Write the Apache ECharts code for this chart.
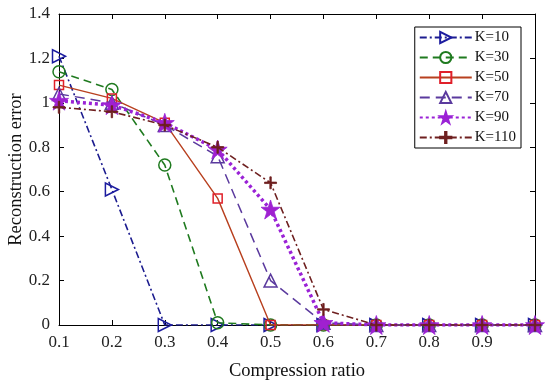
<!DOCTYPE html>
<html><head><meta charset="utf-8">
<script src="https://cdn.jsdelivr.net/npm/echarts@6/dist/echarts.min.js"></script>
<style>html,body{margin:0;padding:0;background:#fff}#c{width:550px;height:381px}</style>
</head><body><div id="c"></div>
<script>
const ratios = [0.1,0.2,0.3,0.4,0.5,0.6,0.7,0.8,0.9,1.0];
const names = ['K=10','K=30','K=50','K=70','K=90','K=110'];
const k10  = [1.21,0.61,0,0,0,0,0,0,0,0];
const k30  = [1.14,1.06,0.72,0.01,0,0,0,0,0,0];
const k50  = [1.08,1.02,0.91,0.57,0,0,0,0,0,0];
const k70  = [1.04,1.00,0.90,0.76,0.20,0.01,0,0,0,0];
const k90  = [1.01,0.99,0.91,0.79,0.52,0.01,0,0,0,0];
const k110 = [0.98,0.96,0.90,0.80,0.64,0.07,0,0,0,0];
const yTicks = [0,0.2,0.4,0.6,0.8,1,1.2,1.4];

const star = 'path://M10,0 L12.25,6.91 L19.51,6.91 L13.63,11.18 L15.88,18.09 L10,13.82 L4.12,18.09 L6.37,11.18 L0.49,6.91 L7.75,6.91 Z';
const plus = 'path://M4.4,0H5.6V4.4H10V5.6H5.6V10H4.4V5.6H0V4.4H4.4Z';
const FONT = '"Liberation Serif","Times New Roman",serif';

function pts(arr){ return arr.map((v,i)=>[ratios[i], v]); }

const styles = [
  {data:k10, line:'#1c1c8f', mark:'#1c1c9f', type:[7,3,2,3], w:1.6, sym:'triangle', rot:-90, size:13, fill:'rgba(255,255,255,0)'},
  {data:k30, line:'#1f7a1f', mark:'#1f7a1f', type:[8,5], w:1.6, sym:'circle', rot:0, size:12, fill:'rgba(255,255,255,0)'},
  {data:k50, line:'#b8401f', mark:'#e0202a', type:'solid', w:1.4, sym:'rect', rot:0, size:9, fill:'rgba(255,255,255,0)'},
  {data:k70, line:'#5b3a9e', mark:'#5b3a9e', type:[10,6], w:1.5, sym:'triangle', rot:0, size:13, fill:'rgba(255,255,255,0)'},
  {data:k90, line:'#9a22d6', mark:'#9a22d6', type:[3,3], w:3.5, sym:star, rot:0, size:19, fill:'#a020d0'},
  {data:k110, line:'#6e1f1f', mark:'#6e1f1f', type:[7,3,2,3], w:1.6, sym:plus, rot:0, size:12, fill:'#6e1f1f'}
];

const series = styles.map((s,i)=>({
  name: names[i], type:'line', data: pts(s.data),
  symbol: s.sym, symbolSize: s.size, symbolRotate: s.rot, showAllSymbol:true,
  lineStyle:{color:s.line, width:s.w, type:s.type},
  itemStyle:{color:s.fill, borderColor:s.mark, borderWidth: (i>=4?0.8:1.5)},
  emphasis:{disabled:true}, animation:false, z: 2+i
}));

const axisBase = {
  axisLine:{show:true, onZero:false, lineStyle:{color:'#000', width:1}},
  axisTick:{show:true, inside:true, length:5, lineStyle:{color:'#000'}},
  splitLine:{show:false}
};

const chart = echarts.init(document.getElementById('c'), null, {renderer:'canvas'});
chart.setOption({
  backgroundColor:'#fff',
  animation:false,
  grid:{left:59, right:15, top:14, bottom:56, containLabel:false, outerBoundsMode:'none'},
  legend:{
    data:names, orient:'vertical', right:29, top:27,
    backgroundColor:'#fff', borderColor:'#000', borderWidth:1,
    padding:[3,5,3,4], itemGap:5, itemWidth:52, itemHeight:14,
    textStyle:{fontFamily:FONT, fontSize:15, color:'#111', padding:[0,0,0,-2]}
  },
  xAxis:[
    Object.assign({}, axisBase, {
      type:'value', min:0.1, max:1.0, interval:0.1, position:'bottom',
      name:'Compression ratio', nameLocation:'middle', nameGap:37, nameMoveOverlap:false,
      nameTextStyle:{fontFamily:FONT, fontSize:18.5, color:'#111'},
      axisLabel:{fontFamily:FONT, fontSize:17, color:'#222', margin:9,
        formatter:v=> (v>=0.999 ? '' : (+v).toFixed(1))}
    }),
    Object.assign({}, axisBase, {
      type:'value', min:0.1, max:1.0, interval:0.1, position:'top',
      axisLabel:{show:false}
    })
  ],
  yAxis:[
    Object.assign({}, axisBase, {
      type:'value', min:0, max:1.4, interval:0.2, position:'left',
      name:'Reconstruction error', nameLocation:'middle', nameGap:33, nameMoveOverlap:false,
      nameTextStyle:{fontFamily:FONT, fontSize:18.5, color:'#111'},
      axisLabel:{fontFamily:FONT, fontSize:17, color:'#222', margin:9,
        formatter:v=>{ const t = yTicks.find(x=>Math.abs(x-v)<1e-6); return String(t!==undefined?t:+v.toFixed(1)); }}
    }),
    Object.assign({}, axisBase, {
      type:'value', min:0, max:1.4, interval:0.2, position:'right',
      axisLabel:{show:false}
    })
  ],
  series: series
});
</script></body></html>
